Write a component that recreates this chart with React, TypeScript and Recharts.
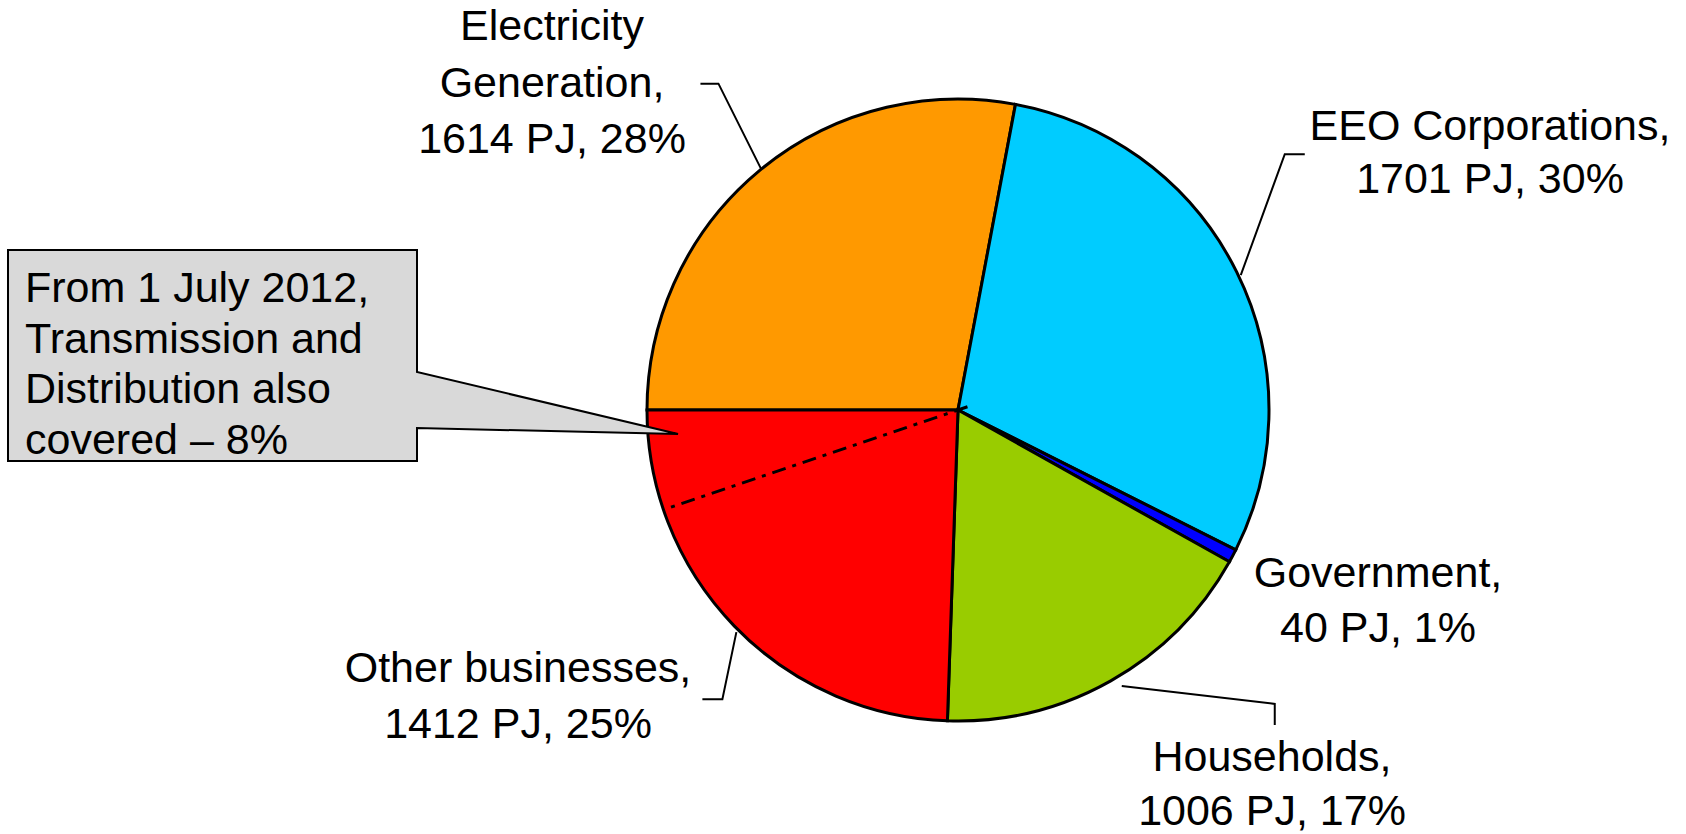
import { PieChart, Pie, Cell } from 'recharts';

const categories = ['Electricity Generation', 'EEO Corporations', 'Government', 'Households', 'Other businesses'];
const energyPJ = [1614, 1701, 40, 1006, 1412];
const sharePct = [28, 30, 1, 17, 25];
const nameLines = [['Electricity', 'Generation,'], ['EEO Corporations,'], ['Government,'], ['Households,'], ['Other businesses,']];
const colors = ['#FF9900', '#00CCFF', '#0000FF', '#99CC00', '#FF0000'];

// part of "Other businesses" drawn off with the dash-dot line
const transmissionPJ = 300;
const calloutLines = ['From 1 July 2012,', 'Transmission and', 'Distribution also', 'covered – 8%'];

const data = categories.map((name, i) => ({ name, value: energyPJ[i] }));
const total = energyPJ.reduce((a, b) => a + b, 0);

const FONT = '"Liberation Sans", Arial, sans-serif';
const FONT_SIZE = 43;
const RAD = Math.PI / 180;

// text anchor (centre x, first baseline y, line height) and leader offsets from the slice edge
const labelLayout = [
  { x: 552, y: 40, lh: 56.5, leader: [[2, -1], [-41, -87], [-59, -87]] },
  { x: 1490, y: 140, lh: 53, leader: [[4, 3], [48, -118], [68, -118]] },
  { x: 1378, y: 587, lh: 55, leader: null },
  { x: 1272, y: 771, lh: 54, leader: [[11, 5], [164, 23], [164, 44]] },
  { x: 518, y: 682, lh: 56, leader: [[2, 6], [-12, 73], [-32, 73]] },
];

const callout = { left: 8, top: 250, right: 417, bottom: 461, tipX: 678, tipY: 434, notchTop: 372, notchBottom: 428 };

function renderLabel(props: any) {
  const { cx, cy, midAngle, outerRadius, index } = props;
  const layout = labelLayout[index];
  const ex = cx + outerRadius * Math.cos(-midAngle * RAD);
  const ey = cy + outerRadius * Math.sin(-midAngle * RAD);
  const lines = [...nameLines[index], `${energyPJ[index]} PJ, ${sharePct[index]}%`];

  let extra = null;
  if (index === categories.length - 1) {
    const a = (-180 + (360 * transmissionPJ) / total) * RAD;
    const r = outerRadius - 7;
    const c = callout;
    extra = (
      <g>
        <line
          x1={cx + 10 * Math.cos(a + Math.PI)}
          y1={cy - 10 * Math.sin(a + Math.PI)}
          x2={cx + r * Math.cos(a)}
          y2={cy - r * Math.sin(a)}
          stroke="#000"
          strokeWidth={3}
          strokeDasharray="14 7 4 7"
        />
        <path
          d={`M${c.left},${c.top} L${c.right},${c.top} L${c.right},${c.notchTop} L${c.tipX},${c.tipY} L${c.right},${c.notchBottom} L${c.right},${c.bottom} L${c.left},${c.bottom} Z`}
          fill="#D9D9D9"
          stroke="#000"
          strokeWidth={2}
        />
        {calloutLines.map((t, i) => (
          <text key={i} x={25} y={302 + i * 50.5} fontFamily={FONT} fontSize={FONT_SIZE} fill="#000">
            {t}
          </text>
        ))}
      </g>
    );
  }

  return (
    <g>
      {extra}
      {layout.leader && (
        <polyline
          points={layout.leader.map(([dx, dy]) => `${ex + dx},${ey + dy}`).join(' ')}
          fill="none"
          stroke="#000"
          strokeWidth={2}
        />
      )}
      {lines.map((t, i) => (
        <text
          key={i}
          x={layout.x}
          y={layout.y + i * layout.lh}
          textAnchor="middle"
          fontFamily={FONT}
          fontSize={FONT_SIZE}
          fill="#000"
        >
          {t}
        </text>
      ))}
    </g>
  );
}

export default function App() {
  return (
    <div style={{ position: 'absolute', left: 0, top: 0, background: '#fff' }}>
      <PieChart width={1686} height={834}>
        <Pie
          data={data}
          dataKey="value"
          nameKey="name"
          cx={953}
          cy={405}
          outerRadius={311}
          startAngle={180}
          endAngle={-180}
          stroke="#000"
          strokeWidth={3}
          label={renderLabel}
          labelLine={false}
          isAnimationActive={false}
        >
          {data.map((d, i) => (
            <Cell key={d.name} fill={colors[i]} />
          ))}
        </Pie>
      </PieChart>
    </div>
  );
}
